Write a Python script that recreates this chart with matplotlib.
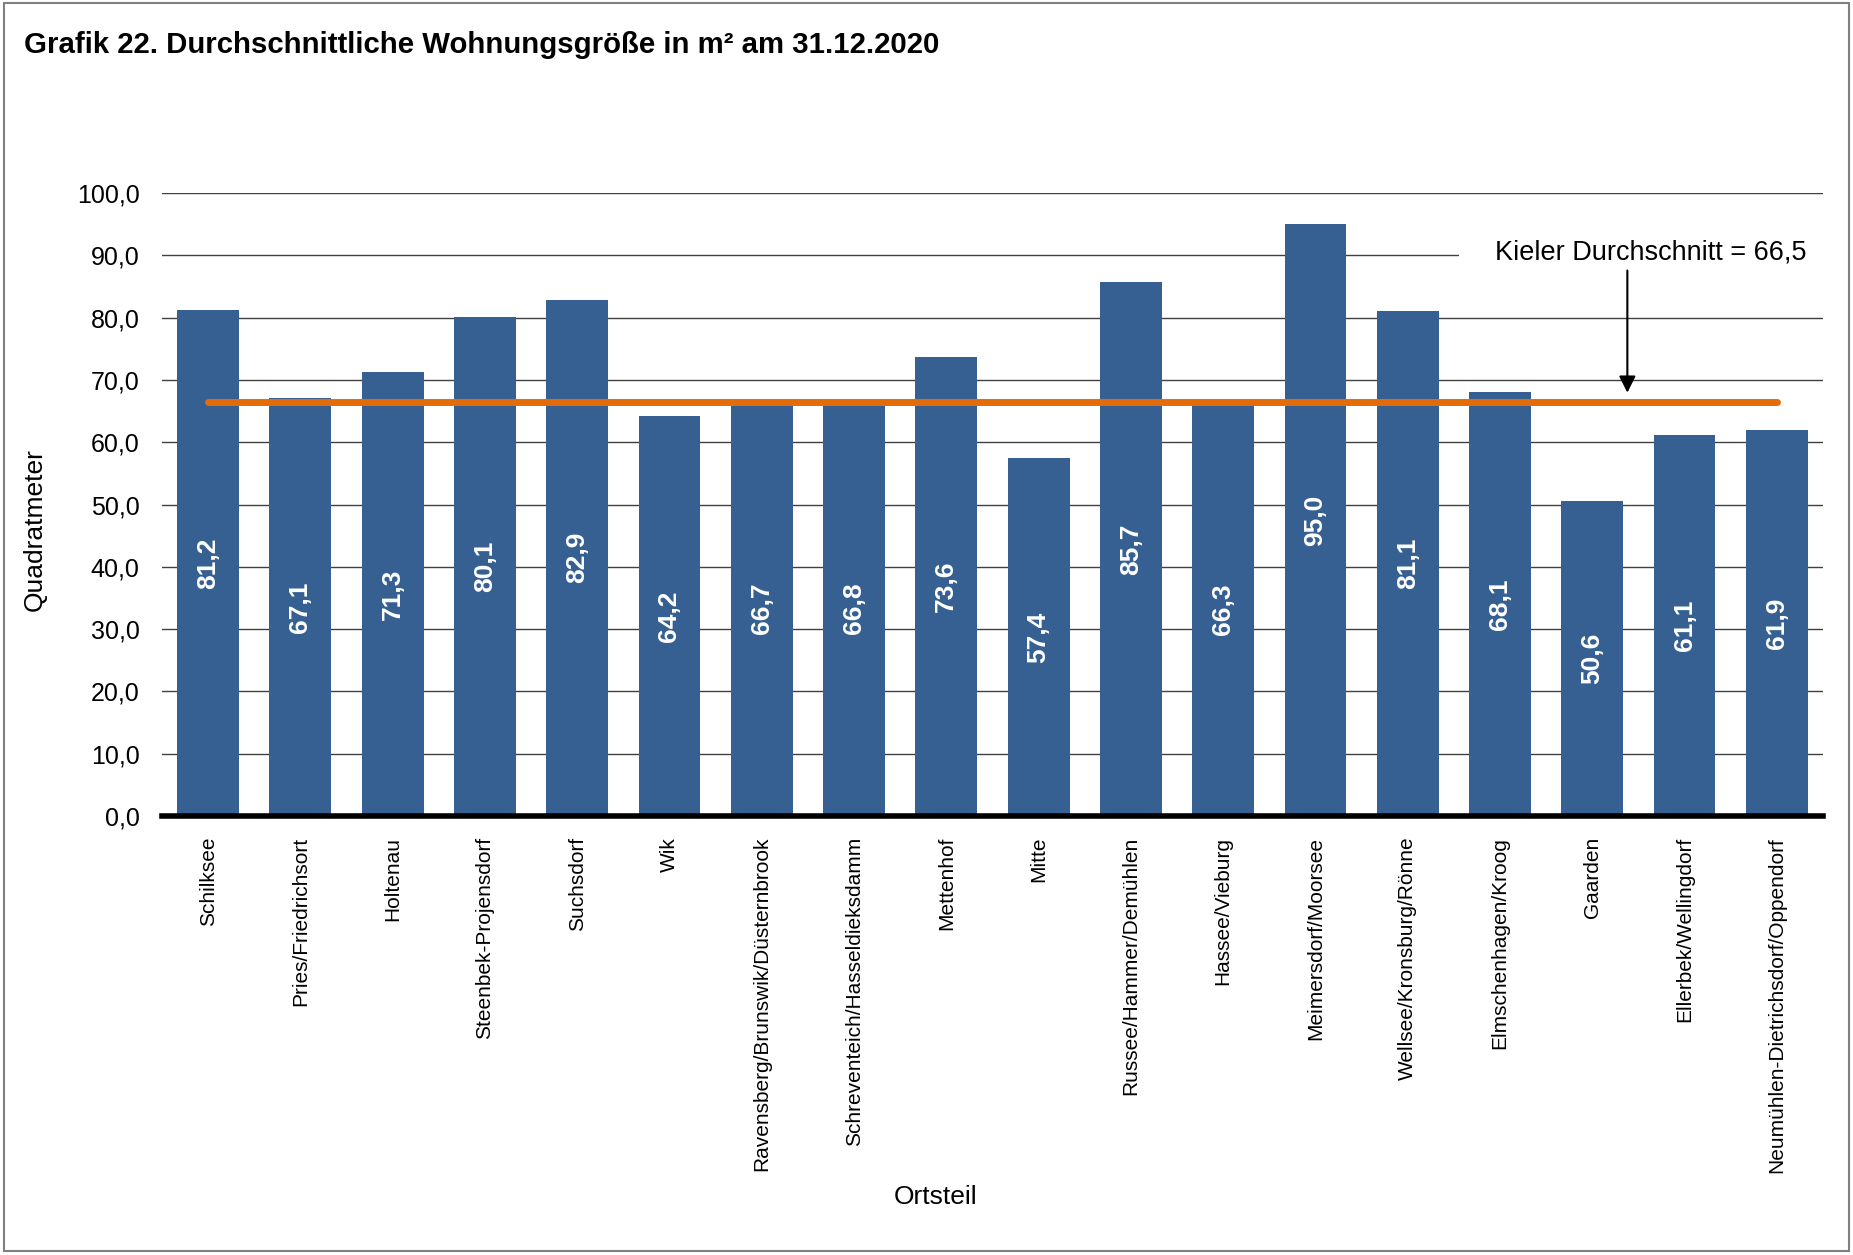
import matplotlib
matplotlib.use("Agg")
import matplotlib.pyplot as plt
from matplotlib.patches import Rectangle

plt.rcParams['font.family'] = ['Liberation Sans', 'DejaVu Sans']

# Ortsteile und durchschnittliche Wohnungsgröße (m²)
ortsteile = [
    "Schilksee", "Pries/Friedrichsort", "Holtenau", "Steenbek-Projensdorf",
    "Suchsdorf", "Wik", "Ravensberg/Brunswik/Düsternbrook",
    "Schreventeich/Hasseldieksdamm", "Mettenhof", "Mitte",
    "Russee/Hammer/Demühlen", "Hassee/Vieburg", "Meimersdorf/Moorsee",
    "Wellsee/Kronsburg/Rönne", "Elmschenhagen/Kroog", "Gaarden",
    "Ellerbek/Wellingdorf", "Neumühlen-Dietrichsdorf/Oppendorf",
]
groesse = [81.2, 67.1, 71.3, 80.1, 82.9, 64.2, 66.7, 66.8, 73.6, 57.4,
           85.7, 66.3, 95.0, 81.1, 68.1, 50.6, 61.1, 61.9]
kiel_schnitt = 66.5
yticks = [0, 10, 20, 30, 40, 50, 60, 70, 80, 90, 100]

bar_color = "#376092"
line_color = "#E36C0A"

fig = plt.figure(figsize=(18.53, 12.55), dpi=100)
ax = fig.add_axes([0.0874, 0.3498, 0.8964, 0.4964])

x = list(range(len(ortsteile)))
bars = ax.bar(x, groesse, width=0.67, color=bar_color, zorder=2)

# Werte in den Balken
for xi, v in zip(x, groesse):
    ax.text(xi, v / 2, f"{v:.1f}".replace(".", ","), rotation=90,
            ha="center", va="center", color="white", fontsize=19,
            fontweight="bold", zorder=3)

# Kieler Durchschnitt
ax.plot([x[0], x[-1]], [kiel_schnitt, kiel_schnitt], color=line_color,
        lw=5, solid_capstyle="round", zorder=4)

# weisses Textfeld ueber den Gitterlinien
ax.add_patch(Rectangle((13.56, 84.5), 4.0, 11.0, facecolor="white",
                       edgecolor="none", zorder=1.5, clip_on=False))
ax.text(15.63, 90.5, f"Kieler Durchschnitt = {kiel_schnitt:.1f}".replace(".", ","),
        ha="center", va="center", fontsize=19.5, zorder=5)
ax.annotate("", xy=(15.38, kiel_schnitt + 1.0), xytext=(15.38, 88.0),
            arrowprops=dict(arrowstyle="-|>", color="black", lw=1.5,
                            mutation_scale=25), zorder=5)

ax.set_xlim(-0.5, len(ortsteile) - 0.5)
ax.set_ylim(0, 100)
ax.set_yticks(yticks)
ax.set_yticklabels([f"{t:.1f}".replace(".", ",") for t in yticks], fontsize=18)
ax.set_xticks(x)
ax.set_xticklabels(ortsteile, rotation=90, fontsize=15, va="top", ha="center")
ax.tick_params(axis="both", length=0)
ax.tick_params(axis="y", pad=16)
ax.tick_params(axis="x", pad=15)

ax.grid(axis="y", color="#404040", lw=1.0, zorder=0)
ax.set_axisbelow(True)
for s in ["left", "right", "top"]:
    ax.spines[s].set_visible(False)
ax.spines["bottom"].set_linewidth(4)
ax.spines["bottom"].set_color("black")
ax.spines["bottom"].set_zorder(6)

fig.text(0.013, 0.964,
         "Grafik 22. Durchschnittliche Wohnungsgröße in m² am 31.12.2020",
         fontsize=21.2, fontweight="bold", ha="left", va="center")
fig.text(0.019, 0.578, "Quadratmeter", rotation=90, fontsize=19,
         ha="center", va="center")
fig.text(0.505, 0.046, "Ortsteil", fontsize=19, ha="center", va="center")

# Rahmen
fig.add_artist(Rectangle((0.002, 0.003), 0.996, 0.995, transform=fig.transFigure,
                         fill=False, edgecolor="#808080", lw=1.5))

fig.savefig("out.png", dpi=100)
